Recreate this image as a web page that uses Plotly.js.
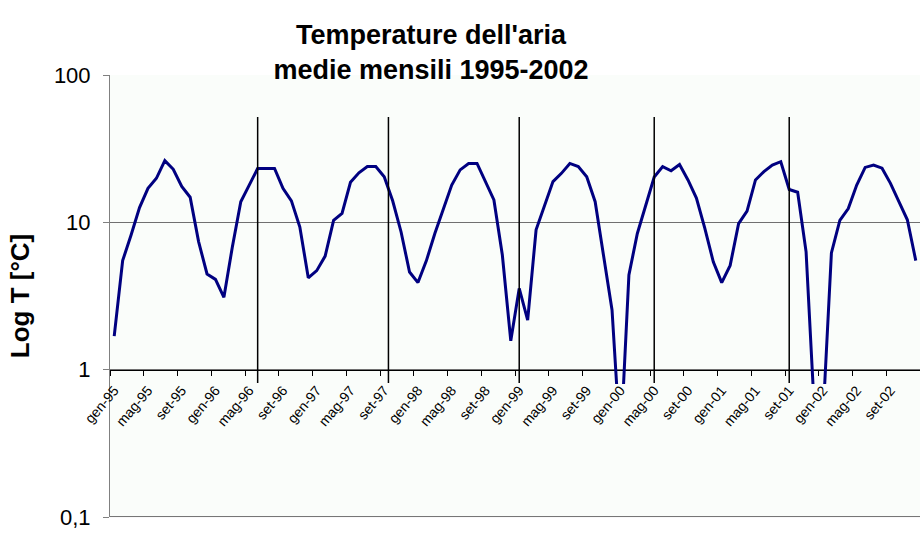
<!DOCTYPE html>
<html>
<head>
<meta charset="utf-8">
<script src="https://cdn.plot.ly/plotly-3.0.1.min.js"></script>
<style>
html,body{margin:0;padding:0;background:#ffffff;}
#chart{width:920px;height:533px;}
</style>
</head>
<body>
<div id="chart"></div>
<script>
// ---- data ----
const monthNames = ['gen','feb','mar','apr','mag','giu','lug','ago','set','ott','nov','dic'];
const years = ['95','96','97','98','99','00','01','02'];
const temps = [
  1.69, 5.5, 8.2, 12.6, 17.0, 19.9, 26.2, 22.9, 17.5, 14.8, 7.4, 4.46,   // 1995
  4.1, 3.1, 6.8, 13.8, 17.9, 23.2, 23.2, 23.2, 17.0, 14.0, 9.3, 4.2,     // 1996
  4.7, 5.9, 10.3, 11.5, 18.7, 21.7, 23.9, 23.9, 20.4, 14.0, 8.6, 4.6,    // 1997
  3.9, 5.5, 8.4, 12.3, 17.9, 22.7, 25.1, 25.1, 18.9, 14.2, 6.0, 1.57,    // 1998
  3.56, 2.17, 8.9, 12.9, 18.9, 21.5, 25.1, 23.9, 20.4, 13.8, 5.9, 2.54,  // 1999
  0.3, 4.4, 8.4, 13.3, 20.3, 23.9, 22.4, 24.7, 19.4, 14.6, 9.1, 5.4,     // 2000
  3.9, 5.1, 9.8, 11.9, 19.4, 22.1, 24.5, 25.8, 16.7, 16.0, 6.3, 0.5,     // 2001
  0.47, 6.2, 10.3, 12.4, 17.9, 23.6, 24.5, 23.3, 18.4, 13.8, 10.4, 5.5   // 2002
];
const yTickVals = [0.1, 1, 10, 100];
const yTickText = ['0,1', '1', '10', '100'];
const dividerMonths = [17, 32.5, 48, 64, 80];

// ---- build categories ----
const categories = [];
years.forEach(y => monthNames.forEach(m => categories.push(m + '-' + y)));

const FONT = 'Liberation Sans, Arial, Helvetica, sans-serif';
const dLow = 0.301; // bottom of the clipped area for the series (just below the 1 line)

const axisHolder = {
  type: 'scatter', mode: 'lines', x: [], y: [],
  xaxis: 'x', yaxis: 'y', hoverinfo: 'skip', showlegend: false
};

const trace = {
  type: 'scatter',
  mode: 'lines',
  x: categories,
  y: temps,
  xaxis: 'x',
  yaxis: 'y2',
  line: {color: '#000080', width: 3},
  hoverinfo: 'x+y',
  showlegend: false
};

const shapes = [
  {type: 'rect', xref: 'paper', yref: 'paper', x0: 0, x1: 1, y0: 0, y1: 1,
   fillcolor: '#fafdfa', line: {width: 0}, layer: 'below'},
  {type: 'line', xref: 'paper', yref: 'paper', x0: 0, x1: 1, y0: 0.001, y1: 0.001,
   line: {color: '#707070', width: 1}, layer: 'above'}
];
dividerMonths.forEach(m => shapes.push({
  type: 'line', xref: 'x', yref: 'paper', x0: m, x1: m, y0: 0.303, y1: 0.905,
  line: {color: '#000000', width: 1.5}, layer: 'above'
}));

const layout = {
  width: 920,
  height: 533,
  margin: {l: 110, r: 0, t: 75, b: 16, pad: 0},
  paper_bgcolor: '#ffffff',
  plot_bgcolor: 'rgba(0,0,0,0)',
  font: {family: FONT, color: '#000000'},
  showlegend: false,
  title: {
    text: "<b>Temperature dell'aria</b><br><b>medie mensili 1995-2002</b>",
    font: {family: FONT, size: 27, color: '#000000'},
    x: 431 / 920, xref: 'container', xanchor: 'center',
    y: 1 - 44 / 533, yref: 'container', yanchor: 'middle'
  },
  xaxis: {
    type: 'category',
    categoryorder: 'array',
    categoryarray: categories,
    range: [-0.5, categories.length - 0.5],
    autorange: false,
    anchor: 'free',
    position: 1 / 3,
    showline: true, linecolor: '#000000', linewidth: 1,
    ticks: 'outside', ticklen: 5, tickcolor: '#000000', tickwidth: 1,
    tickson: 'boundaries',
    tickmode: 'linear', tick0: 0, dtick: 4,
    tickangle: -50,
    ticklabelstandoff: 6,
    tickfont: {family: FONT, size: 14, color: '#000000'},
    showgrid: false, zeroline: false, fixedrange: true
  },
  yaxis: {
    type: 'log',
    range: [-1, 2],
    autorange: false,
    domain: [0, 1],
    anchor: 'x',
    tickmode: 'array',
    tickvals: yTickVals,
    ticktext: yTickText,
    ticks: 'outside', ticklen: 6, tickcolor: '#808080',
    showline: true, linecolor: '#808080', linewidth: 1,
    showgrid: true, gridcolor: '#707070', gridwidth: 1,
    zeroline: false,
    tickfont: {family: FONT, size: 22, color: '#000000'},
    ticklabelstandoff: 8,
    title: {text: '<b>Log T [°C]</b>', font: {family: FONT, size: 26, color: '#000000'}, standoff: 16},
    fixedrange: true
  },
  yaxis2: {
    type: 'log',
    domain: [dLow, 1],
    range: [2 - 3 * (1 - dLow), 2],
    autorange: false,
    anchor: 'x',
    visible: false,
    showgrid: false,
    zeroline: false,
    fixedrange: true
  },
  shapes: shapes
};

Plotly.newPlot('chart', [axisHolder, trace], layout, {displayModeBar: false, staticPlot: true});
</script>
</body>
</html>
